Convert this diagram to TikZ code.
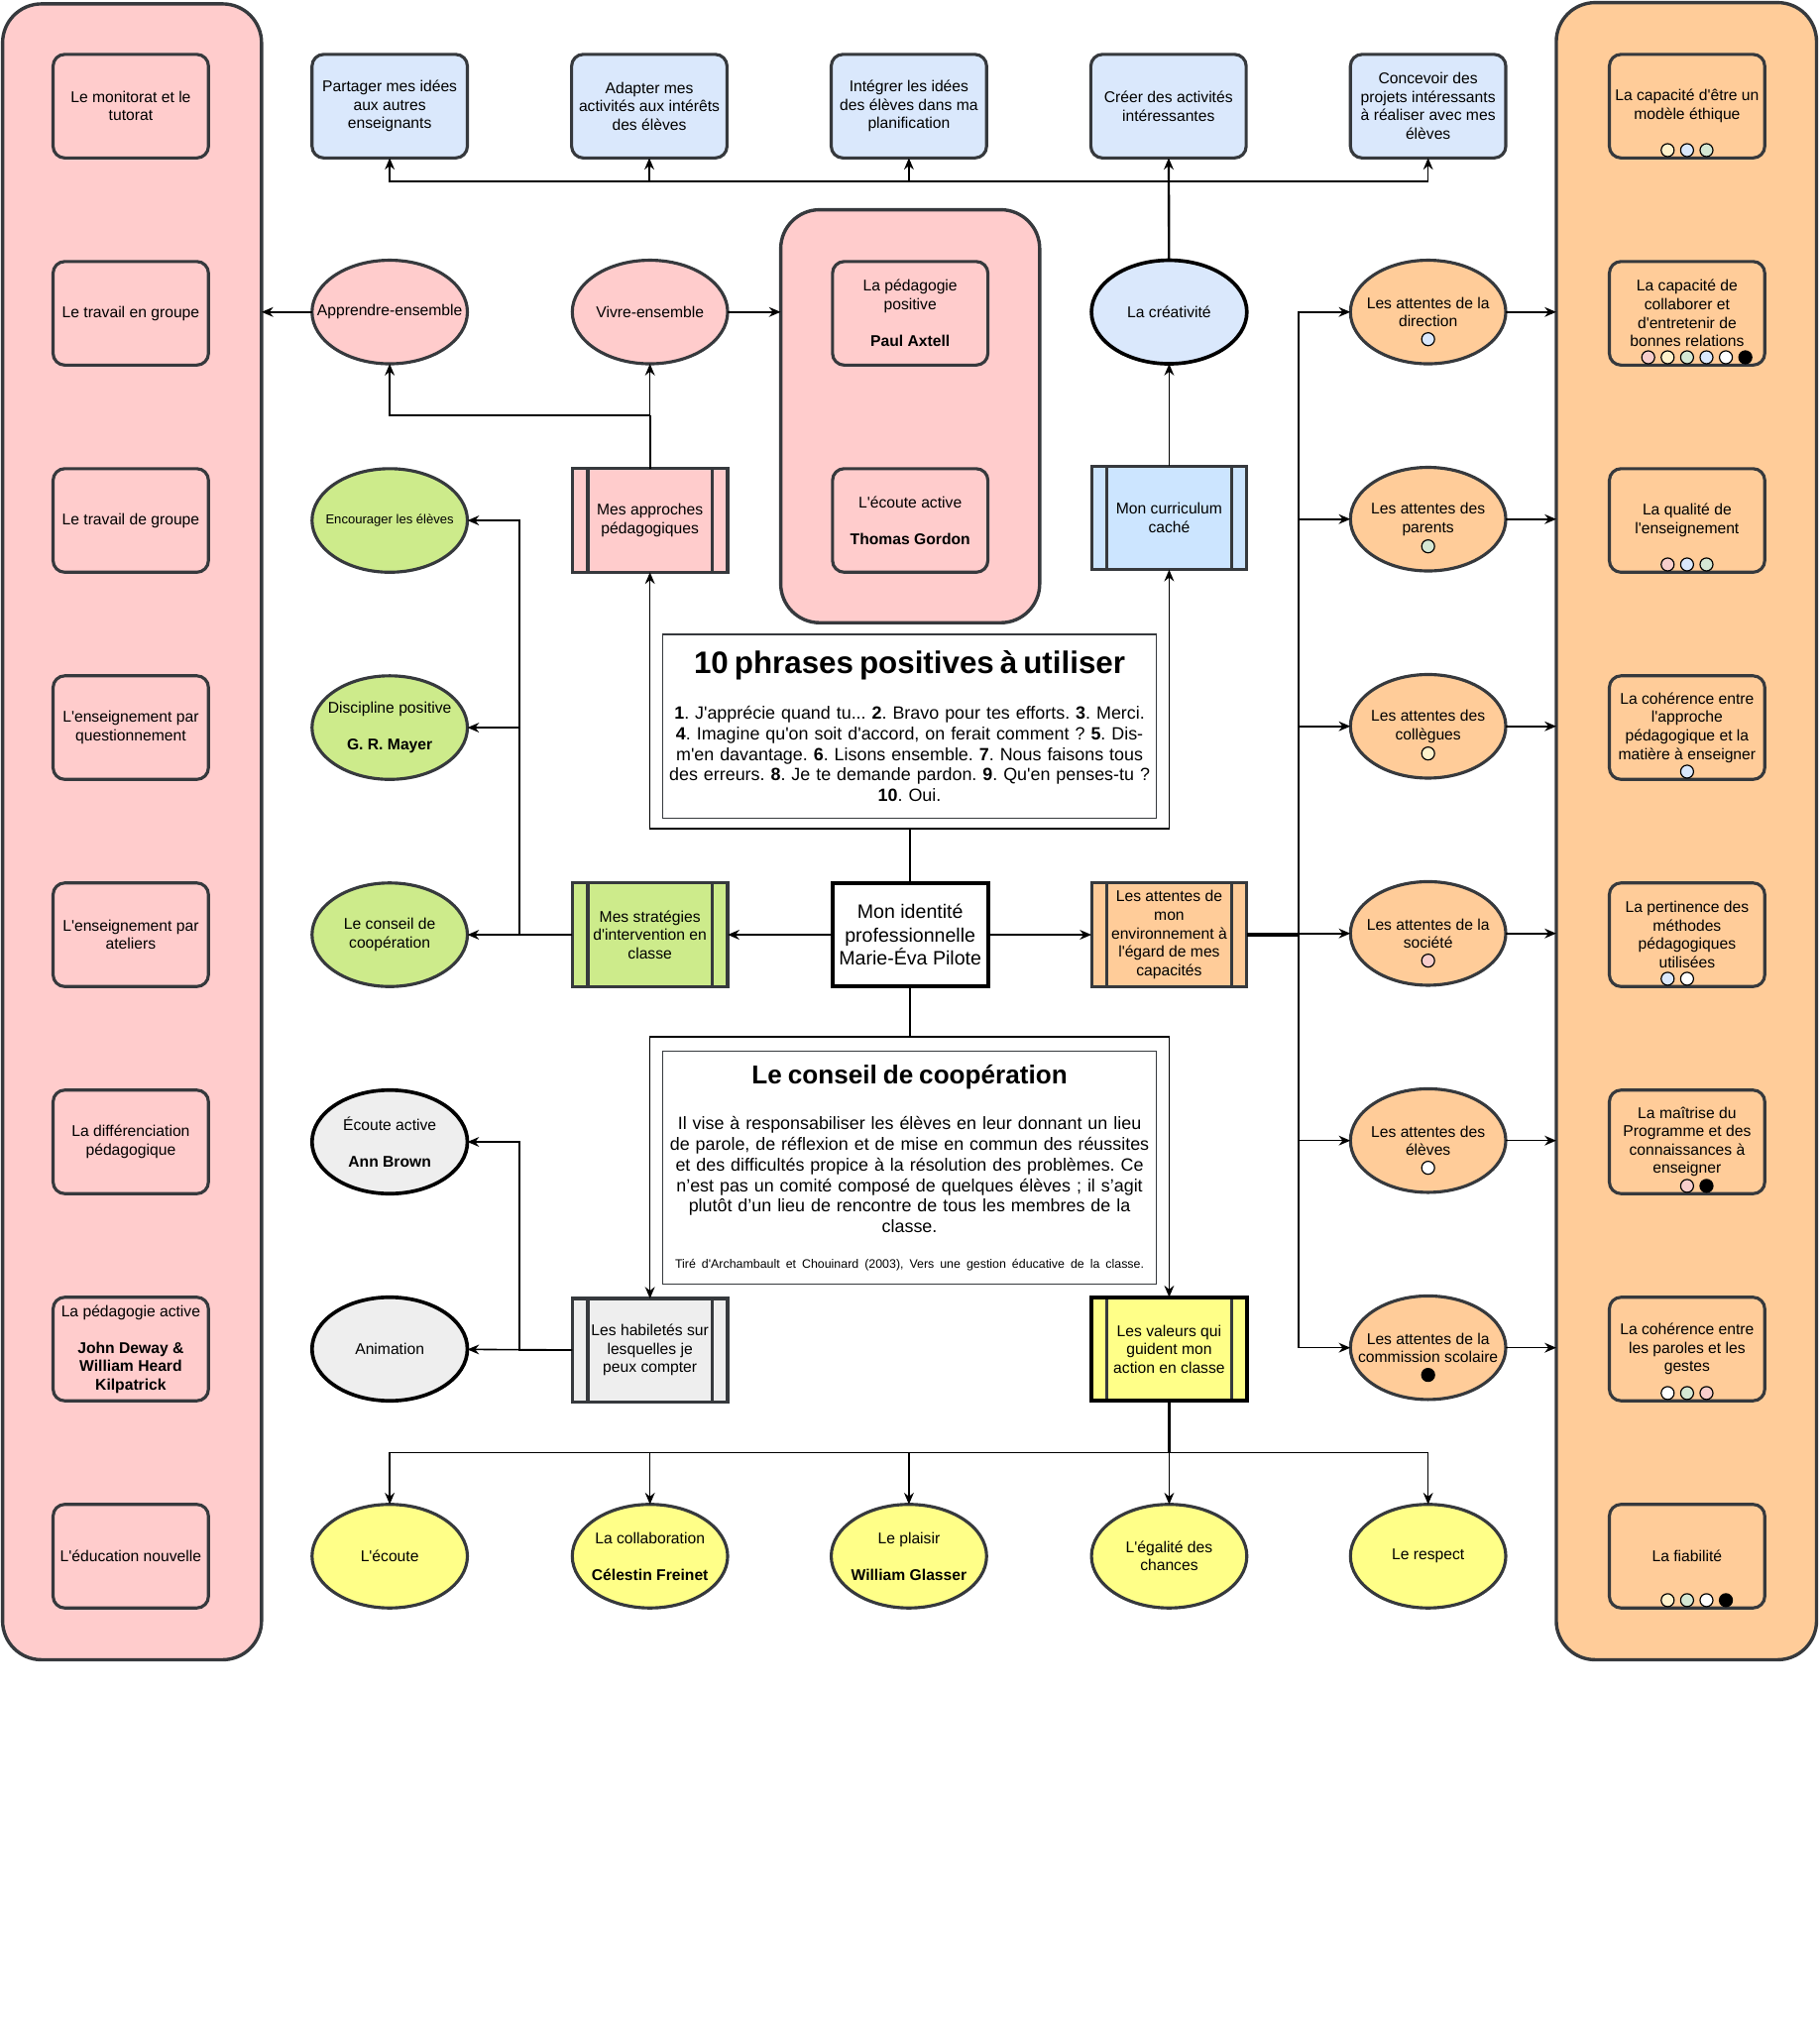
\documentclass[tikz,border=0pt]{standalone}
\usepackage{fontspec}
\setmainfont{Liberation Sans}[Ligatures=TeXOff]
\usetikzlibrary{arrows.meta,positioning,shapes.geometric,calc}
\definecolor{linegrey}{HTML}{36393D}
\definecolor{pinkbg}{HTML}{FFCCCC}
\definecolor{bluebg}{HTML}{DAE8FC}
\definecolor{skybg}{HTML}{CCE5FF}
\definecolor{orangebg}{HTML}{FFCC99}
\definecolor{greenbg}{HTML}{CDEB8B}
\definecolor{greybg}{HTML}{EEEEEE}
\definecolor{yellowbg}{HTML}{FFFF88}
\definecolor{dotpink}{HTML}{F8CECC}
\definecolor{dotyellow}{HTML}{FFF2CC}
\definecolor{dotgreen}{HTML}{D5E8D4}
\definecolor{dotblue}{HTML}{DAE8FC}
\frenchspacing
\newcommand{\noteline}[1]{\makebox[\linewidth]{#1}\par}

\begin{document}
\begin{tikzpicture}[x=1pt,y=-1pt,
  font=\fontsize{12}{14.2}\selectfont,
  card/.style={draw=linegrey,line width=2.4pt,rounded corners=9pt,minimum width=120pt,
               minimum height=80pt,inner sep=2pt,outer sep=0pt,align=center},
  oval/.style={ellipse,draw=linegrey,line width=2.4pt,minimum width=120pt,minimum height=80pt,
               inner sep=-16pt,outer sep=0pt,align=center},
  proc/.style={draw=linegrey,line width=2.4pt,minimum width=120pt,minimum height=80pt,
               inner sep=2pt,outer sep=0pt,align=center,
               path picture={\draw[linegrey,line width=2.4pt]
                 ([xshift=12pt]path picture bounding box.north west) -- ([xshift=12pt]path picture bounding box.south west)
                 ([xshift=-12pt]path picture bounding box.north east) -- ([xshift=-12pt]path picture bounding box.south east);}},
  panel/.style={draw=linegrey,line width=2.6pt,rounded corners=30pt,outer sep=0pt},
  note/.style={draw=linegrey,line width=1pt,fill=white,text width=379pt,inner xsep=1pt,
               inner ysep=2pt,align=center,font=\fontsize{13.7}{16}\selectfont\frenchspacing},
  dot/.style={circle,draw=black,line width=0.9pt,minimum size=10pt,inner sep=0pt},
  arr/.style={-{Stealth[length=9pt,width=7.5pt]},line width=1.2pt},
  trunk/.style={line width=2.4pt}]

\useasboundingbox (0,0) rectangle (1405,1568);

\node[panel,fill=pinkbg,minimum width=200pt,minimum height=1279pt] (leftpanel) at (102,642.5) {};
\node[panel,fill=orangebg,minimum width=201pt,minimum height=1280pt] (rightpanel) at (1302.5,642) {};
\node[panel,fill=pinkbg,minimum width=200pt,minimum height=319pt] (midpanel) at (703,321.5) {};

\node[card,fill=pinkbg] (lmon) at (101,82) {Le monitorat et le\\tutorat};
\node[card,fill=pinkbg,below=80pt of lmon] (lgroupe) {Le travail en groupe};
\node[card,fill=pinkbg,below=80pt of lgroupe] (ldegroupe) {Le travail de groupe};
\node[card,fill=pinkbg,below=80pt of ldegroupe] (lquest) {L'enseignement par\\questionnement};
\node[card,fill=pinkbg,below=80pt of lquest] (lateliers) {L'enseignement par\\ateliers};
\node[card,fill=pinkbg,below=80pt of lateliers] (ldiff) {La différenciation\\pédagogique};
\node[card,fill=pinkbg,below=80pt of ldiff] (lactive) {La pédagogie active\\[14.2pt]\textbf{John Deway \&}\\\textbf{William Heard}\\\textbf{Kilpatrick}};
\node[card,fill=pinkbg,below=80pt of lactive] (lnouv) {L'éducation nouvelle};

\node[card,fill=bluebg] (share) at (301,82) {Partager mes idées\\aux autres\\enseignants};
\node[card,fill=bluebg,right=80.5pt of share] (adapt) {Adapter mes\\activités aux intérêts\\des élèves};
\node[card,fill=bluebg,right=80.5pt of adapt] (integ) {Intégrer les idées\\des élèves dans ma\\planification};
\node[card,fill=bluebg,right=80.5pt of integ] (creer) {Créer des activités\\intéressantes};
\node[card,fill=bluebg,right=80.5pt of creer] (concev) {Concevoir des\\projets intéressants\\à réaliser avec mes\\élèves};

\node[oval,fill=pinkbg] (appr) at (301,241) {Apprendre-ensemble};
\node[oval,fill=pinkbg,right=81pt of appr] (vivre) {Vivre-ensemble};
\node[card,fill=pinkbg] (pedpos) at (703,242) {La pédagogie\\positive\\[14.2pt]\textbf{Paul Axtell}};
\node[card,fill=pinkbg,below=80pt of pedpos] (ecouteact) {L'écoute active\\[14.2pt]\textbf{Thomas Gordon}};
\node[oval,fill=bluebg,draw=black,line width=2.8pt] (creat) at (903,241) {La créativité};

\node[oval,fill=greenbg,font=\fontsize{10}{12}\selectfont] (encour) at (301,402) {Encourager les élèves};
\node[oval,fill=greenbg,below=80pt of encour] (discip) {Discipline positive\\[14.2pt]\textbf{G. R. Mayer}};
\node[oval,fill=greenbg,below=80pt of discip] (conseil) {Le conseil de\\coopération};
\node[oval,fill=greybg,draw=black,line width=2.8pt,below=80pt of conseil] (ecoute) {Écoute active\\[14.2pt]\textbf{Ann Brown}};
\node[oval,fill=greybg,draw=black,line width=2.8pt,below=80pt of ecoute] (anim) {Animation};

\node[proc,fill=pinkbg] (approches) at (502,402) {Mes approches\\pédagogiques};
\node[proc,fill=skybg] (curric) at (903,400) {Mon curriculum\\caché};
\node[proc,fill=greenbg] (strat) at (502,722) {Mes stratégies\\d'intervention en\\classe};
\node[draw=black,line width=3pt,fill=white,minimum width=120pt,minimum height=80pt,inner sep=2pt,
      outer sep=0pt,align=center,font=\fontsize{15}{18}\selectfont] (ident) at (703,722)
      {Mon identité\\professionnelle\\Marie-Éva Pilote};
\node[proc,fill=orangebg] (env) at (903,722) {Les attentes de\\mon\\environnement à\\l'égard de mes\\capacités};
\node[proc,fill=greybg] (habil) at (502,1043) {Les habiletés sur\\lesquelles je\\peux compter};
\node[proc,fill=yellowbg,draw=black,line width=3pt] (valeurs) at (903,1042) {Les valeurs qui\\guident mon\\action en classe};

\node[note,minimum height=142pt] (phrases) at (702.5,561) {%
  {\fontsize{24}{28}\selectfont\bfseries 10 phrases positives à utiliser\par}\vspace{19pt}
  \noteline{\textbf{1}. J'apprécie quand tu... \textbf{2}. Bravo pour tes efforts. \textbf{3}. Merci.}
  \noteline{\textbf{4}. Imagine qu'on soit d'accord, on ferait comment ? \textbf{5}. Dis-}
  \noteline{m'en davantage. \textbf{6}. Lisons ensemble. \textbf{7}. Nous faisons tous}
  \noteline{des erreurs. \textbf{8}. Je te demande pardon. \textbf{9}. Qu'en penses-tu ?}
  \noteline{\textbf{10}. Oui.}};
\node[note,minimum height=180pt] (coopnote) at (702.5,902) {%
  {\fontsize{20}{24}\selectfont\bfseries Le conseil de coopération\par}\vspace{19pt}
  \noteline{Il vise à responsabiliser les élèves en leur donnant un lieu}
  \noteline{de parole, de réflexion et de mise en commun des réussites}
  \noteline{et des difficultés propice à la résolution des problèmes. Ce}
  \noteline{n’est pas un comité composé de quelques élèves ; il s’agit}
  \noteline{plutôt d’un lieu de rencontre de tous les membres de la}
  \noteline{classe.}\vspace{16pt}
  {\fontsize{9.5}{11}\selectfont\noteline{Tiré d'Archambault et Chouinard (2003), Vers une gestion éducative de la classe.}}};

\node[oval,fill=orangebg] (attdir) at (1103,241) {Les attentes de la\\direction};
\node[oval,fill=orangebg,below=80pt of attdir] (attpar) {Les attentes des\\parents};
\node[oval,fill=orangebg,below=80pt of attpar] (attcol) {Les attentes des\\collègues};
\node[oval,fill=orangebg,below=80pt of attcol] (attsoc) {Les attentes de la\\société};
\node[oval,fill=orangebg,below=80pt of attsoc] (attel) {Les attentes des\\élèves};
\node[oval,fill=orangebg,below=80pt of attel] (attcom) {Les attentes de la\\commission scolaire};

\node[card,fill=orangebg] (rethique) at (1303,82) {La capacité d'être un\\modèle éthique};
\node[card,fill=orangebg,below=80pt of rethique] (rcollab) {La capacité de\\collaborer et\\d'entretenir de\\bonnes relations};
\node[card,fill=orangebg,below=80pt of rcollab] (rqualite) {La qualité de\\l'enseignement};
\node[card,fill=orangebg,below=80pt of rqualite] (rcoher) {La cohérence entre\\l'approche\\pédagogique et la\\matière à enseigner};
\node[card,fill=orangebg,below=80pt of rcoher] (rpertin) {La pertinence des\\méthodes\\pédagogiques\\utilisées};
\node[card,fill=orangebg,below=80pt of rpertin] (rmaitrise) {La maîtrise du\\Programme et des\\connaissances à\\enseigner};
\node[card,fill=orangebg,below=80pt of rmaitrise] (rparoles) {La cohérence entre\\les paroles et les\\gestes};
\node[card,fill=orangebg,below=80pt of rparoles] (rfiab) {La fiabilité};

\node[oval,fill=yellowbg] (lecoute) at (301,1202) {L'écoute};
\node[oval,fill=yellowbg,right=81pt of lecoute] (collab) {La collaboration\\[14.2pt]\textbf{Célestin Freinet}};
\node[oval,fill=yellowbg,right=80pt of collab] (plaisir) {Le plaisir\\[14.2pt]\textbf{William Glasser}};
\node[oval,fill=yellowbg,right=81pt of plaisir] (egal) {L'égalité des\\chances};
\node[oval,fill=yellowbg,right=80pt of egal] (respect) {Le respect};

\node[dot,fill=dotblue] (ddir) at ([yshift=-21pt]attdir.center) {};
\node[dot,fill=dotgreen] (dpar) at ([yshift=-21pt]attpar.center) {};
\node[dot,fill=dotyellow] (dcol) at ([yshift=-21pt]attcol.center) {};
\node[dot,fill=dotpink] (dsoc) at ([yshift=-21pt]attsoc.center) {};
\node[dot,fill=white] (del) at ([yshift=-21pt]attel.center) {};
\node[dot,fill=black] (dcom) at ([yshift=-21pt]attcom.center) {};

\node[dot,fill=dotyellow] (e1) at (1288,116) {};
\node[dot,fill=dotblue] (e2) at (1303,116) {};
\node[dot,fill=dotgreen] (e3) at (1318,116) {};
\node[dot,fill=dotpink] (c1) at (1273,276) {};
\node[dot,fill=dotyellow] (c2) at (1288,276) {};
\node[dot,fill=dotgreen] (c3) at (1303,276) {};
\node[dot,fill=dotblue] (c4) at (1318,276) {};
\node[dot,fill=white] (c5) at (1333,276) {};
\node[dot,fill=black] (c6) at (1348,276) {};
\node[dot,fill=dotpink] (q1) at (1288,436) {};
\node[dot,fill=dotblue] (q2) at (1303,436) {};
\node[dot,fill=dotgreen] (q3) at (1318,436) {};
\node[dot,fill=dotblue] (h1) at (1303,596) {};
\node[dot,fill=dotblue] (p1) at (1288,756) {};
\node[dot,fill=white] (p2) at (1303,756) {};
\node[dot,fill=dotpink] (m1) at (1303,916) {};
\node[dot,fill=black] (m2) at (1318,916) {};
\node[dot,fill=white] (g1) at (1288,1076) {};
\node[dot,fill=dotgreen] (g2) at (1303,1076) {};
\node[dot,fill=dotpink] (g3) at (1318,1076) {};
\node[dot,fill=dotyellow] (f1) at (1288,1236) {};
\node[dot,fill=dotgreen] (f2) at (1303,1236) {};
\node[dot,fill=white] (f3) at (1318,1236) {};
\node[dot,fill=black] (f4) at (1333,1236) {};

\draw[arr,line width=1.8pt] (creat) -- (creer);
\draw[arr] (creat.north) |- ([yshift=-18pt]share.south) -- (share.south);
\draw[arr] (creat.north) |- ([yshift=-18pt]adapt.south) -- (adapt.south);
\draw[arr] (creat.north) |- ([yshift=-18pt]integ.south) -- (integ.south);
\draw[arr] (creat.north) |- ([yshift=-18pt]concev.south) -- (concev.south);

\draw[arr] (appr) -- (appr -| leftpanel.east);
\draw[arr] (vivre) -- (vivre -| midpanel.west);
\draw[arr] (approches) -- (vivre);
\draw[trunk,line width=1.8pt] (approches.north) -- ([yshift=-40pt]vivre.south);
\draw[arr] (approches.north) |- ([yshift=-40pt]appr.south) -- (appr.south);
\draw[arr] (curric) -- (creat);

\draw[arr] (ident.north) -- ++(0,-42) -| (approches.south);
\draw[arr] (ident.north) -- ++(0,-42) -| (curric.south);
\draw[arr] (ident.south) -- ++(0,39) -| (habil.north);
\draw[arr] (ident.south) -- ++(0,39) -| (valeurs.north);
\draw[arr] (ident) -- (strat);
\draw[arr] (ident) -- (env);

\draw[arr] (strat) -- (conseil);
\draw[arr] (strat.west) -- ++(-41,0) |- (encour);
\draw[arr] (strat.west) -- ++(-41,0) |- (discip);
\draw[arr] (habil) -- (anim);
\draw[arr] (habil.west) -- ++(-41,0) |- (ecoute);

\draw[trunk] (env.east) -- ++(40,0);
\draw[arr] (env.east) -- ++(40,0) |- (attdir);
\draw[arr] (env.east) -- ++(40,0) |- (attpar);
\draw[arr] (env.east) -- ++(40,0) |- (attcol);
\draw[arr] (env.east) -- ++(40,0) |- (attsoc);
\draw[arr] (env.east) -- ++(40,0) |- (attel);
\draw[arr] (env.east) -- ++(40,0) |- (attcom);
\draw[arr] (attdir) -- (attdir -| rightpanel.west);
\draw[arr] (attpar) -- (attpar -| rightpanel.west);
\draw[arr] (attcol) -- (attcol -| rightpanel.west);
\draw[arr] (attsoc) -- (attsoc -| rightpanel.west);
\draw[arr] (attel) -- (attel -| rightpanel.west);
\draw[arr] (attcom) -- (attcom -| rightpanel.west);

\draw[trunk] (valeurs.south) -- ++(0,40);
\draw[arr] (valeurs.south) -- ++(0,40) -| (lecoute);
\draw[arr] (valeurs.south) -- ++(0,40) -| (collab);
\draw[arr] (valeurs.south) -- ++(0,40) -| (plaisir);
\draw[arr] (valeurs.south) -- ++(0,40) -| (egal);
\draw[arr] (valeurs.south) -- ++(0,40) -| (respect);
\end{tikzpicture}
\end{document}
